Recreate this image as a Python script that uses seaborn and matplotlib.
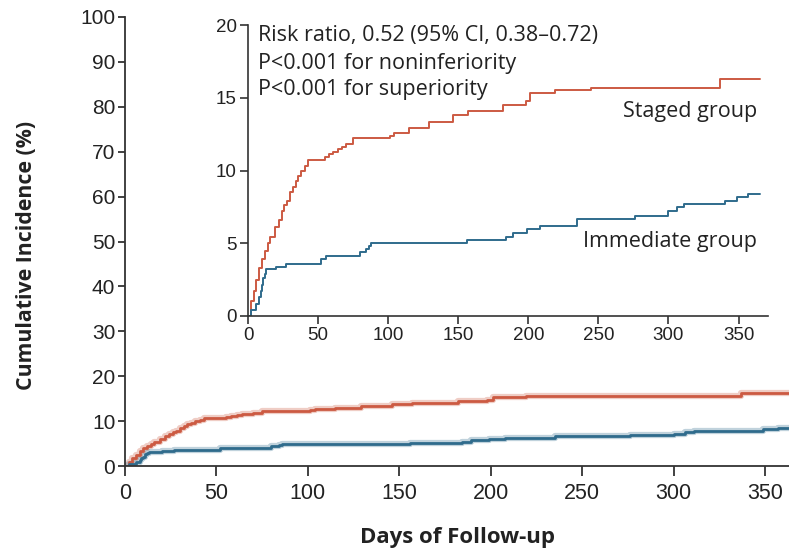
import numpy as np
import pandas as pd
import matplotlib
matplotlib.use("Agg")
import matplotlib.pyplot as plt
import seaborn as sns

# step data (day, cumulative incidence %)
staged_days = [0, 2, 4, 6, 8, 10, 12, 14, 16, 19, 22, 24, 26, 28, 30, 32, 34, 36, 38, 41, 43,
               55, 58, 61, 64, 67, 70, 75, 101, 104, 115, 129, 146, 157, 182, 198, 201, 219,
               245, 337, 365]
staged_pct = [0, 1.0, 1.7, 2.5, 3.3, 3.9, 4.5, 5.0, 5.4, 6.1, 6.6, 7.2, 7.6, 7.9, 8.5, 8.9,
              9.3, 9.6, 10.0, 10.3, 10.7, 10.9, 11.1, 11.3, 11.5, 11.6, 11.8, 12.2, 12.4, 12.6,
              12.9, 13.3, 13.8, 14.1, 14.5, 14.8, 15.3, 15.5, 15.7, 16.3, 16.3]

immediate_days = [0, 2, 6, 8, 9, 10, 11, 12, 13, 20, 27, 52, 56, 80, 84, 86, 88, 156, 184, 189,
                  199, 208, 235, 276, 300, 306, 311, 340, 349, 357, 365]
immediate_pct = [0, 0.4, 0.8, 1.3, 1.7, 2.1, 2.6, 2.9, 3.2, 3.4, 3.6, 3.9, 4.1, 4.4, 4.6, 4.8,
                 5.0, 5.2, 5.4, 5.7, 6.0, 6.2, 6.7, 6.9, 7.2, 7.5, 7.7, 7.9, 8.2, 8.4, 8.4]

x_ticks = [0, 50, 100, 150, 200, 250, 300, 350]
main_y_ticks = list(range(0, 101, 10))
inset_y_ticks = [0, 5, 10, 15, 20]

stats_text = ["Risk ratio, 0.52 (95% CI, 0.38\u20130.72)",
              "P<0.001 for noninferiority",
              "P<0.001 for superiority"]

red = "#CC5A42"
blue = "#2F6B8C"
axis_col = "#333333"
txt_col = "#222222"
txt_font = ["Open Sans", "DejaVu Sans"]

df = pd.concat([
    pd.DataFrame({"day": staged_days, "pct": staged_pct, "group": "Staged group"}),
    pd.DataFrame({"day": immediate_days, "pct": immediate_pct, "group": "Immediate group"}),
])
pal = {"Staged group": red, "Immediate group": blue}

sns.set_theme(style="ticks")
plt.rcParams["font.family"] = ["Liberation Sans", "DejaVu Sans"]

fig = plt.figure(figsize=(7.89, 5.50), dpi=100)
ax = fig.add_axes([125 / 789, 1 - 466 / 550, 664 / 789, 449 / 550])

# main plot: halo then line
sns.lineplot(data=df, x="day", y="pct", hue="group", palette=pal, estimator=None,
             sort=False, drawstyle="steps-post", lw=4.5, alpha=0.3, legend=False, ax=ax)
sns.lineplot(data=df, x="day", y="pct", hue="group", palette=pal, estimator=None,
             sort=False, drawstyle="steps-post", lw=2.0, legend=False, ax=ax)
ax.set_xlim(0, 363)
ax.set_ylim(0, 100)
ax.set_xticks(x_ticks)
ax.set_yticks(main_y_ticks)
ax.tick_params(axis="x", labelsize=15.5, length=7, width=1.3, color=axis_col,
               labelcolor=txt_col, pad=5)
ax.tick_params(axis="y", labelsize=15, length=5, width=1.3, color=axis_col,
               labelcolor=txt_col, pad=2)
for s in ["top", "right"]:
    ax.spines[s].set_visible(False)
for s in ["left", "bottom"]:
    ax.spines[s].set_color(axis_col)
    ax.spines[s].set_linewidth(1.3)
ax.set_xlabel("Days of Follow-up", fontsize=16, fontweight="bold", family=txt_font,
              color=txt_col)
ax.xaxis.set_label_coords(0.5, -0.135)
ax.set_ylabel("Cumulative Incidence (%)", fontsize=15.3, fontweight="bold",
              family=txt_font, color=txt_col)
ax.yaxis.set_label_coords(-0.132, 0.47)

# inset
ins = fig.add_axes([248 / 789, 1 - 316 / 550, 520 / 789, 291 / 550])
ins.set_facecolor("white")
sns.lineplot(data=df, x="day", y="pct", hue="group", palette=pal, estimator=None,
             sort=False, drawstyle="steps-post", lw=1.4, legend=False, ax=ins)
ins.set_xlim(0, 371)
ins.set_ylim(0, 20)
ins.set_xticks(x_ticks)
ins.set_yticks(inset_y_ticks)
ins.set_xlabel("")
ins.set_ylabel("")
ins.tick_params(axis="both", labelsize=13.5, length=6, width=1.2, color=axis_col,
                labelcolor=txt_col, pad=2)
for s in ["top", "right"]:
    ins.spines[s].set_visible(False)
for s in ["left", "bottom"]:
    ins.spines[s].set_color(axis_col)
    ins.spines[s].set_linewidth(1.2)

for i, line in enumerate(stats_text):
    ins.text(10 / 520, 1 - (11 + 27 * i) / 291, line, transform=ins.transAxes,
             fontsize=15.5, family=txt_font, color=txt_col, va="center", ha="left")
ins.text(509 / 520, (316 - 111) / 291, "Staged group", transform=ins.transAxes,
         fontsize=15.5, family=txt_font, color=txt_col, va="center", ha="right")
ins.text(509 / 520, (316 - 242) / 291, "Immediate group", transform=ins.transAxes,
         fontsize=15.5, family=txt_font, color=txt_col, va="center", ha="right")

fig.savefig("out.png", dpi=100, facecolor="white")
